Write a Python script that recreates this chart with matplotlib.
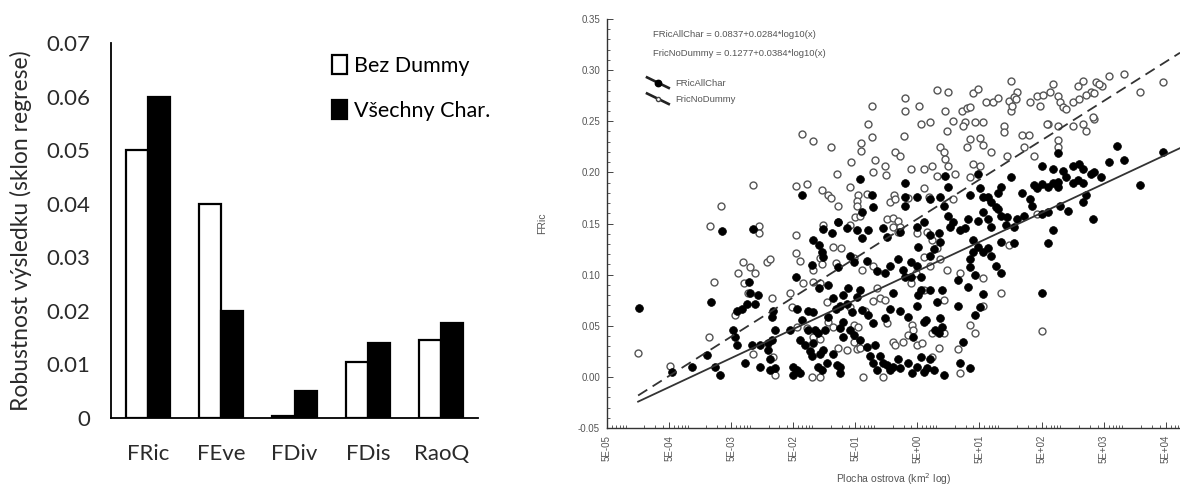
import numpy as np
import matplotlib
matplotlib.use("Agg")
import matplotlib.pyplot as plt
from matplotlib.lines import Line2D
from matplotlib.legend_handler import HandlerLine2D
from matplotlib.ticker import FixedLocator, FuncFormatter, MultipleLocator, LogLocator, NullFormatter

# ---------------- data: left bar chart ----------------
categories = ["FRic", "FEve", "FDiv", "FDis", "RaoQ"]
bez_dummy = [0.050, 0.040, 0.0004, 0.0105, 0.0146]
vsechny_char = [0.060, 0.020, 0.0051, 0.0140, 0.0177]
bar_ticks = [0, 0.01, 0.02, 0.03, 0.04, 0.05, 0.06, 0.07]
bar_ticklabels = ["0", "0.01", "0.02", "0.03", "0.04", "0.05", "0.06", "0.07"]

# ---------------- data: right scatter (log10 area km2, FRic) ----------------
nodummy_points = [
    (0.50, 0.273), (0.50, 0.260), (-0.03, 0.265), (-0.09, 0.247), (-1.16, 0.238), (-0.98, 0.231), (-0.69, 0.225),
    (-0.21, 0.229), (-0.04, 0.235), (-0.21, 0.221), (0.49, 0.236), (0.34, 0.220), (0.42, 0.216), (-0.37, 0.210),
    (0.02, 0.212), (-0.01, 0.200), (0.18, 0.206), (0.20, 0.197), (-0.59, 0.198), (-0.38, 0.186), (-1.25, 0.187),
    (-1.08, 0.189), (-1.95, 0.188), (-0.84, 0.183), (-0.74, 0.178), (-0.69, 0.175), (-0.58, 0.167), (-0.25, 0.178),
    (-0.11, 0.179), (-0.27, 0.172), (-0.27, 0.167), (0.33, 0.178), (0.26, 0.171), (0.34, 0.174), (-2.46, 0.167),
    (-2.64, 0.148), (-1.85, 0.148), (-1.85, 0.141), (-1.25, 0.139), (-0.82, 0.149), (-0.58, 0.151), (-0.38, 0.149),
    (-0.30, 0.156), (-0.22, 0.157), (0.21, 0.154), (0.30, 0.155), (0.38, 0.152), (0.31, 0.147), (0.42, 0.147),
    (0.38, 0.142), (-0.66, 0.127), (-0.53, 0.126), (-1.25, 0.121), (-1.19, 0.113), (-0.87, 0.116), (-0.84, 0.110),
    (-0.98, 0.105), (-0.61, 0.111), (-0.33, 0.116), (-0.19, 0.105), (-0.01, 0.108), (-1.72, 0.112), (-1.67, 0.115),
    (-2.11, 0.112), (-2.00, 0.107), (-2.19, 0.102), (-1.92, 0.102),
    (2.20, 0.289), (1.20, 0.279), (1.59, 0.278), (1.67, 0.282), (0.73, 0.265), (1.15, 0.260), (1.42, 0.260),
    (1.50, 0.263), (1.55, 0.264), (1.81, 0.269), (1.91, 0.269), (2.00, 0.273), (2.17, 0.270), (2.30, 0.279),
    (2.25, 0.274), (2.20, 0.260), (2.23, 0.265), (2.52, 0.269), (2.63, 0.275), (2.73, 0.276), (2.84, 0.279),
    (2.89, 0.286), (2.96, 0.275), (3.00, 0.269), (3.05, 0.264), (3.20, 0.269), (3.28, 0.284), (3.36, 0.289),
    (3.49, 0.279), (3.57, 0.288), (3.68, 0.284), (3.78, 0.294), (4.02, 0.296), (4.29, 0.279), (4.65, 0.288),
    (3.30, 0.272), (3.41, 0.276), (3.54, 0.278), (0.75, 0.247), (0.91, 0.249), (1.28, 0.250), (1.47, 0.249),
    (1.63, 0.249), (1.75, 0.249), (1.18, 0.240), (1.44, 0.245), (2.09, 0.245), (2.09, 0.239), (2.39, 0.237),
    (2.49, 0.237), (2.80, 0.247), (2.96, 0.245), (3.20, 0.245), (3.37, 0.247), (3.41, 0.240), (3.54, 0.252),
    (1.55, 0.233), (1.71, 0.234), (1.07, 0.225), (1.12, 0.220), (1.50, 0.225), (1.75, 0.227), (1.88, 0.220),
    (2.15, 0.216), (2.57, 0.216), (2.97, 0.232), (2.97, 0.225), (1.15, 0.213), (1.20, 0.206), (1.60, 0.208),
    (1.71, 0.206), (0.80, 0.203), (0.94, 0.206), (0.59, 0.203), (1.02, 0.196), (1.31, 0.198), (1.55, 0.195),
    (0.80, 0.185), (0.88, 0.176), (1.28, 0.174), (0.55, 0.175), (0.70, 0.141), (0.86, 0.142), (0.94, 0.134),
    (1.02, 0.126), (2.17, 0.129), (2.63, 0.159), (0.80, 0.117), (0.91, 0.108), (1.07, 0.115), (1.18, 0.105),
    (1.39, 0.102), (0.67, 0.102), (1.76, 0.097), (2.68, 0.265), (3.10, 0.262), (3.62, 0.286), (3.52, 0.254),
    (2.78, 0.247), (2.42, 0.225), (2.28, 0.272), (1.02, 0.281),
    (-2.58, 0.093), (-3.80, 0.023), (-3.29, 0.011), (-2.66, 0.039), (-2.24, 0.061), (-2.03, 0.082), (-2.09, 0.092),
    (-1.64, 0.077), (-1.35, 0.082), (-1.32, 0.068), (-1.14, 0.092), (-0.98, 0.093), (-0.87, 0.092), (-1.95, 0.022),
    (-1.62, 0.019), (-1.59, 0.002), (-1.00, 0.000), (-0.87, 0.000), (-1.24, 0.049), (-1.08, 0.048), (-0.74, 0.054),
    (-0.66, 0.049), (-0.58, 0.028), (-0.43, 0.026), (-0.27, 0.027), (-0.22, 0.028), (-0.17, 0.000), (0.15, 0.000),
    (-0.33, 0.051), (-0.25, 0.049), (-0.33, 0.034), (0.05, 0.087), (0.10, 0.077), (0.18, 0.075), (0.21, 0.053),
    (0.31, 0.034), (0.34, 0.031), (-0.01, 0.074), (-0.76, 0.073), (-0.38, 0.068), (-0.14, 0.064), (-0.98, 0.039),
    (-0.87, 0.037), (2.04, 0.082), (2.71, 0.045), (1.75, 0.069), (1.55, 0.051), (1.63, 0.043), (1.36, 0.027),
    (1.04, 0.028), (1.39, 0.004), (0.62, 0.051), (0.63, 0.046), (0.55, 0.041), (0.46, 0.034), (0.70, 0.031),
    (0.78, 0.033), (0.94, 0.043), (1.12, 0.043), (0.94, 0.019), (0.80, 0.085), (1.12, 0.075), (0.59, 0.092),
]

allchar_points = [
    (-0.22, 0.194), (-1.16, 0.178), (-0.03, 0.178), (-0.01, 0.166), (-0.19, 0.161), (0.50, 0.190), (0.50, 0.176),
    (0.50, 0.167), (-2.45, 0.143), (-1.95, 0.145), (-0.58, 0.151), (-0.67, 0.141), (-0.82, 0.145), (-0.98, 0.134),
    (-0.89, 0.129), (-0.84, 0.122), (-0.43, 0.146), (-0.09, 0.144), (-0.19, 0.136), (-0.27, 0.144), (0.15, 0.146),
    (0.21, 0.137), (0.42, 0.142), (-1.00, 0.109), (-0.82, 0.117), (-0.58, 0.107), (-0.38, 0.118), (-0.33, 0.112),
    (-0.11, 0.113), (0.05, 0.104), (0.18, 0.102), (0.26, 0.108), (0.38, 0.115), (0.46, 0.105), (0.50, 0.098),
    (-1.25, 0.098),
    (3.92, 0.226), (4.65, 0.220), (2.97, 0.219), (3.78, 0.210), (4.02, 0.212), (4.29, 0.188), (2.71, 0.206),
    (2.89, 0.203), (3.05, 0.201), (3.21, 0.206), (3.30, 0.208), (3.37, 0.203), (3.49, 0.198), (3.54, 0.200),
    (3.65, 0.195), (2.57, 0.188), (2.63, 0.185), (2.71, 0.189), (2.80, 0.186), (2.89, 0.190), (2.96, 0.191),
    (2.97, 0.186), (3.09, 0.195), (3.20, 0.190), (3.28, 0.193), (3.37, 0.190), (3.41, 0.178), (3.36, 0.171),
    (3.52, 0.154), (2.20, 0.195), (2.04, 0.186), (1.99, 0.180), (1.84, 0.176), (1.71, 0.185), (2.39, 0.180),
    (2.52, 0.174), (2.55, 0.167), (2.41, 0.157), (2.31, 0.154), (2.15, 0.156), (2.25, 0.147), (2.12, 0.149),
    (2.71, 0.159), (2.80, 0.161), (3.00, 0.167), (3.12, 0.162), (2.88, 0.144), (2.80, 0.131), (2.25, 0.131),
    (1.67, 0.198), (1.55, 0.178), (1.75, 0.176), (1.88, 0.171), (1.96, 0.166), (1.15, 0.196), (1.20, 0.186),
    (1.07, 0.176), (1.12, 0.167), (0.91, 0.174), (0.70, 0.176), (1.20, 0.157), (1.23, 0.147), (1.28, 0.151),
    (1.39, 0.144), (1.47, 0.146), (1.52, 0.154), (1.68, 0.152), (1.76, 0.161), (1.83, 0.154), (1.88, 0.147),
    (1.99, 0.164), (2.04, 0.157), (1.59, 0.134), (1.67, 0.127), (1.59, 0.122), (1.75, 0.122), (1.84, 0.126),
    (2.04, 0.132), (0.70, 0.147), (0.80, 0.151), (0.91, 0.139), (1.04, 0.141), (1.07, 0.132), (0.96, 0.125),
    (0.91, 0.118), (0.71, 0.127), (0.59, 0.112), (0.70, 0.108), (0.59, 0.098), (0.75, 0.098), (1.55, 0.115),
    (1.55, 0.107), (1.63, 0.100), (1.88, 0.118), (1.96, 0.108), (2.04, 0.102),
    (-3.78, 0.067), (-2.62, 0.073), (-2.00, 0.082), (-1.87, 0.080), (-1.92, 0.071), (-2.04, 0.071), (-2.12, 0.066),
    (-2.21, 0.064), (-2.27, 0.046), (-2.21, 0.031), (-2.24, 0.039), (-3.26, 0.005), (-2.93, 0.010), (-2.56, 0.010),
    (-2.48, 0.002), (-2.08, 0.014), (-1.96, 0.031), (-1.84, 0.031), (-1.71, 0.033), (-1.64, 0.036), (-1.71, 0.026),
    (-1.67, 0.017), (-1.84, 0.010), (-1.67, 0.007), (-1.59, 0.009), (-1.30, 0.010), (-1.30, 0.002), (-1.24, 0.007),
    (-1.19, 0.004), (-1.62, 0.064), (-1.64, 0.059), (-1.59, 0.046), (-1.35, 0.046), (-1.24, 0.066), (-1.16, 0.056),
    (-1.19, 0.036), (-1.11, 0.031), (-0.98, 0.033), (-1.03, 0.025), (-1.00, 0.020), (-0.87, 0.022), (-0.82, 0.026),
    (-1.06, 0.046), (-0.95, 0.046), (-0.90, 0.043), (-0.79, 0.046), (-0.90, 0.010), (-0.84, 0.007), (-0.76, 0.014),
    (-0.66, 0.022), (-0.59, 0.012), (-0.54, 0.010), (-0.54, 0.004), (-0.50, 0.039), (-0.38, 0.046), (-0.33, 0.041),
    (-0.22, 0.036), (-0.11, 0.029), (-0.06, 0.020), (-0.01, 0.014), (-0.74, 0.059), (-0.62, 0.066), (-0.54, 0.069),
    (-0.43, 0.071), (-0.50, 0.054), (-0.54, 0.048), (-0.98, 0.063), (-1.06, 0.064), (-0.74, 0.090), (-0.66, 0.077),
    (-0.50, 0.080), (-0.42, 0.087), (0.02, 0.031), (0.10, 0.020), (0.15, 0.014), (0.21, 0.012), (0.26, 0.007),
    (0.31, 0.010), (0.38, 0.017), (0.05, 0.007), (-0.09, 0.061), (-0.01, 0.053), (0.18, 0.058), (0.26, 0.066),
    (-2.01, 0.093), (-0.89, 0.087), (-0.22, 0.085), (-0.27, 0.078), (0.30, 0.082), (-0.19, 0.065), (-0.35, 0.063),
    (-2.69, 0.021),
    (2.71, 0.082), (1.52, 0.088), (1.75, 0.081), (1.36, 0.069), (1.71, 0.068), (1.63, 0.061), (1.44, 0.034),
    (1.39, 0.014), (1.55, 0.009), (1.12, 0.002), (0.96, 0.007), (0.80, 0.005), (0.62, 0.004), (0.42, 0.009),
    (0.54, 0.014), (0.70, 0.010), (0.86, 0.009), (0.75, 0.019), (0.91, 0.017), (1.07, 0.058), (1.10, 0.049),
    (1.04, 0.043), (0.99, 0.046), (0.80, 0.054), (0.63, 0.039), (0.70, 0.069), (1.02, 0.073), (1.10, 0.085),
    (0.91, 0.085), (0.75, 0.085), (0.42, 0.064), (1.36, 0.095), (0.83, 0.056), (0.54, 0.059), (0.71, 0.080),
]

# regression coefficients (from the equations printed on the chart)
allchar_coef = (0.0837, 0.0284)
nodummy_coef = (0.1277, 0.0384)
x_tick_values = [5e-5, 5e-4, 5e-3, 5e-2, 5e-1, 5e0, 5e1, 5e2, 5e3, 5e4]
x_tick_labels = ["5E-05", "5E-04", "5E-03", "5E-02", "5E-01", "5E+00", "5E+01", "5E+02", "5E+03", "5E+04"]

# ---------------- figure ----------------
fig = plt.figure(figsize=(11.8, 4.9), dpi=100)
fig.patch.set_facecolor("white")

# ===== left: bar chart =====
ax1 = fig.add_axes([111 / 1180, (490 - 418) / 490, 367 / 1180, 375 / 490])
bfont = "Lato"
idx = np.arange(len(categories))
bw = 0.30
ax1.bar(idx - bw / 2, bez_dummy, bw, color="white", edgecolor="black", linewidth=1.6, label="Bez Dummy")
ax1.bar(idx + bw / 2, vsechny_char, bw, color="black", edgecolor="black", linewidth=1.6, label="Všechny Char.")
ax1.set_xlim(-0.5, 4.5)
ax1.set_ylim(0, 0.07)
ax1.set_yticks(bar_ticks)
ax1.set_yticklabels(bar_ticklabels, fontfamily=bfont, fontsize=16, color="#2a2a2a")
ax1.set_xticks(idx)
ax1.set_xticklabels(categories, fontfamily=bfont, fontsize=16, color="#2a2a2a")
ax1.tick_params(axis="y", length=0, pad=15)
ax1.tick_params(axis="x", length=0, pad=19)
for s in ("top", "right"):
    ax1.spines[s].set_visible(False)
ax1.spines["left"].set_linewidth(1.3)
ax1.spines["bottom"].set_linewidth(1.3)
ax1.set_ylabel("Robustnost výsledku (sklon regrese)", fontfamily=bfont, fontsize=16.5, color="#2a2a2a", labelpad=10)
leg1 = ax1.legend(loc="upper left", bbox_to_anchor=(0.55, 1.02), frameon=False,
                  prop={"family": bfont, "size": 15.5}, handlelength=0.7, handleheight=1.0,
                  handletextpad=0.3, labelspacing=1.1)

# ===== right: scatter =====
ax2 = fig.add_axes([607 / 1180, (490 - 428) / 490, 573 / 1180, 409 / 490])
sfont = "Liberation Sans"
tc = "#555555"

nd = np.array(nodummy_points)
ac = np.array(allchar_points)
ax2.plot(10 ** nd[:, 0], nd[:, 1], linestyle="none", marker="o", ms=5.0, mfc="white",
         mec="#555555", mew=1.0, zorder=2)
ax2.plot(10 ** ac[:, 0], ac[:, 1], linestyle="none", marker="o", ms=5.6, mfc="black",
         mec="black", mew=0.5, zorder=3)

xmin_line = 10 ** min(nd[:, 0].min(), ac[:, 0].min())
xmax_axis = 8.5e4
xl = np.array([xmin_line, xmax_axis])
ax2.plot(xl, nodummy_coef[0] + nodummy_coef[1] * np.log10(xl), color="#333333", lw=1.3,
         linestyle=(0, (6, 3.5)), zorder=4)
ax2.plot(xl, allchar_coef[0] + allchar_coef[1] * np.log10(xl), color="#333333", lw=1.3,
         linestyle="-", zorder=4)

ax2.set_xscale("log")
ax2.set_xlim(5e-5, xmax_axis)
ax2.set_ylim(-0.05, 0.35)
ax2.xaxis.set_major_locator(FixedLocator(x_tick_values))
ax2.xaxis.set_major_formatter(FuncFormatter(lambda v, p: ""))
ax2.set_xticklabels(x_tick_labels)
ax2.xaxis.set_minor_locator(LogLocator(base=10, subs=(1, 2, 3, 4, 6, 7, 8, 9), numticks=40))
ax2.xaxis.set_minor_formatter(NullFormatter())
ax2.yaxis.set_major_locator(MultipleLocator(0.05))
ax2.yaxis.set_minor_locator(MultipleLocator(0.01))
ax2.yaxis.set_major_formatter(FuncFormatter(lambda v, p: f"{v:.2f}"))
for lab in ax2.get_xticklabels():
    lab.set_rotation(90)
ax2.tick_params(axis="both", which="both", direction="in", colors="#444444", labelcolor=tc,
                labelsize=7)
ax2.tick_params(axis="both", which="major", length=4, width=0.7, pad=5)
ax2.tick_params(axis="both", which="minor", length=2, width=0.6)
for lab in ax2.get_xticklabels() + ax2.get_yticklabels():
    lab.set_fontfamily(sfont)
for s in ("top", "right"):
    ax2.spines[s].set_visible(False)
ax2.spines["left"].set_color("#333333")
ax2.spines["bottom"].set_color("#333333")
ax2.spines["left"].set_linewidth(1.0)
ax2.spines["bottom"].set_linewidth(1.0)

ax2.set_xlabel("Plocha ostrova (km$^2$ log)", fontfamily=sfont, fontsize=7.5, color=tc, labelpad=6)
ax2.set_ylabel("FRic", fontfamily=sfont, fontsize=7.5, color=tc, labelpad=22)

eq1 = f"FRicAllChar = {allchar_coef[0]:.4f}+{allchar_coef[1]:.4f}*log10(x)"
eq2 = f"FricNoDummy = {nodummy_coef[0]:.4f}+{nodummy_coef[1]:.4f}*log10(x)"
ax2.text(0.081, 0.962, eq1, transform=ax2.transAxes, fontsize=6.8, color=tc,
         fontfamily=sfont, va="center", ha="left")
ax2.text(0.081, 0.915, eq2, transform=ax2.transAxes, fontsize=6.8, color=tc,
         fontfamily=sfont, va="center", ha="left")


class DiagHandler(HandlerLine2D):
    def create_artists(self, legend, orig_handle, xdescent, ydescent, width, height, fontsize, trans):
        x0, x1 = -xdescent, -xdescent + width
        y0, y1 = -ydescent + height * 1.25, -ydescent - height * 0.35
        line = Line2D([x0, x1], [y0, y1])
        line.set_color(orig_handle.get_color())
        line.set_linewidth(orig_handle.get_linewidth() + 0.6)
        line.set_transform(trans)
        mk = Line2D([(x0 + x1) / 2], [(y0 + y1) / 2], linestyle="none",
                    marker=orig_handle.get_marker(), ms=orig_handle.get_markersize(),
                    mfc=orig_handle.get_markerfacecolor(), mec=orig_handle.get_markeredgecolor())
        mk.set_transform(trans)
        return [line, mk]


h_all = Line2D([], [], color="#222222", lw=1.3, marker="o", ms=4.6, mfc="black", mec="black")
h_nd = Line2D([], [], color="#222222", lw=1.3, marker="o", ms=3.0, mfc="white", mec="#444444")
leg2 = ax2.legend([h_all, h_nd], ["FRicAllChar", "FricNoDummy"], loc="upper left",
                  bbox_to_anchor=(0.055, 0.875), frameon=False,
                  handlelength=2.3, handletextpad=0.7, labelspacing=0.75,
                  handler_map={Line2D: DiagHandler()}, prop={"family": sfont, "size": 6.8})
for t in leg2.get_texts():
    t.set_color(tc)

fig.savefig("out.png", dpi=100, facecolor="white")
